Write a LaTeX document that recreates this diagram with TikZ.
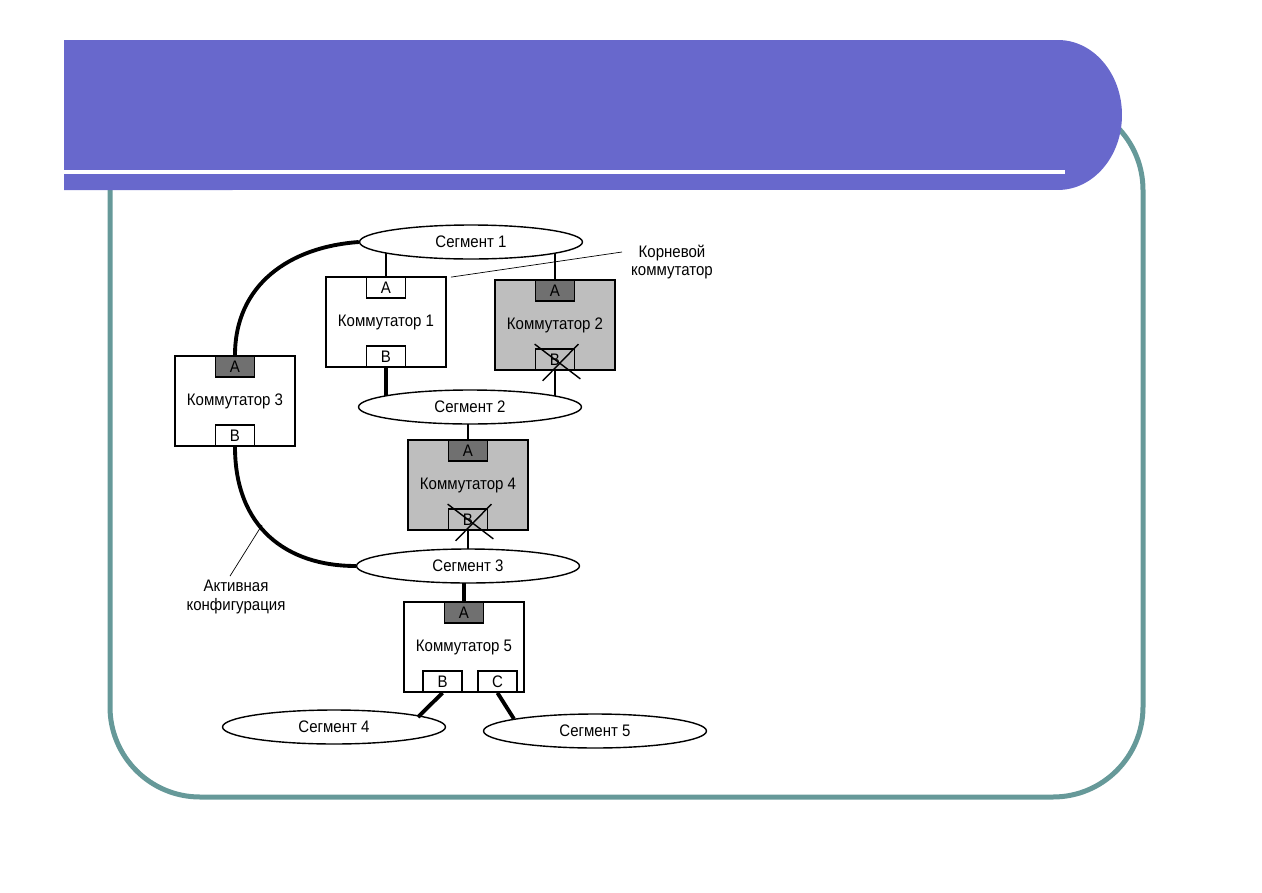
\documentclass[tikz,border=0pt]{standalone}
\usepackage{fontspec}
\setmainfont{Liberation Sans}[FakeStretch=0.9]
\usetikzlibrary{shapes.geometric,calc,backgrounds}
\definecolor{barblue}{RGB}{104,104,204}
\definecolor{frameteal}{RGB}{102,153,153}
\definecolor{swgray}{RGB}{190,190,190}
\definecolor{portgray}{RGB}{112,112,112}

\begin{document}
\begin{tikzpicture}[x=0.02cm, y=-0.02cm,
    font=\fontsize{9.5}{10.5}\selectfont,
    seg/.style={ellipse, draw, line width=0.8pt, fill=white, minimum width=4.46cm, minimum height=0.68cm, inner sep=0pt},
    sw/.style={rectangle, draw, line width=1pt, fill=white, minimum width=2.4cm, minimum height=1.8cm},
    swoff/.style={sw, fill=swgray},
    port/.style={rectangle, draw, line width=1pt, fill=white, minimum width=0.78cm, minimum height=0.42cm, inner sep=0pt},
    portact/.style={port, fill=portgray},
    link/.style={line width=0.9pt},
    actlink/.style={line width=2.2pt},
    xmark/.style={line width=0.8pt}]
    \useasboundingbox (0,0) rectangle (1262,893);

    % рамка и полоса заголовка
    \draw[frameteal, line width=0.1cm, rounded corners=1.8cm] (110,100) rectangle (1143,797);
    \fill[barblue] (64,40) -- (1058,40) arc[start angle=90, end angle=-90, x radius=1.28cm, y radius=1.5cm] -- (64,190) -- cycle;
    \draw[white, line width=0.08cm] (64,172) -- (1065,172);

    % сегменты
    \node[seg] (seg1) at (471,242) {Сегмент 1};
    \node[seg] (seg2) at (470,407) {Сегмент 2};
    \node[seg] (seg3) at (468,566) {Сегмент 3};
    \node[seg] (seg4) at (334,727) {Сегмент 4};
    \node[seg] (seg5) at (595,731) {Сегмент 5};

    % коммутатор 1 (корневой)
    \node[sw] (sw1) at (386,322) {Коммутатор 1};
    \node[port, anchor=north] (sw1A) at (sw1.north) {A};
    \node[port, anchor=south] (sw1B) at (sw1.south) {B};

    % коммутатор 2
    \node[swoff] (sw2) at (555,325) {Коммутатор 2};
    \node[portact, anchor=north] (sw2A) at (sw2.north) {A};
    \node[port, fill=swgray, anchor=south] (sw2B) at (sw2.south) {B};

    % коммутатор 3
    \node[sw] (sw3) at (235,401) {Коммутатор 3};
    \node[portact, anchor=north] (sw3A) at (sw3.north) {A};
    \node[port, anchor=south] (sw3B) at (sw3.south) {B};

    % коммутатор 4
    \node[swoff] (sw4) at (468,485) {Коммутатор 4};
    \node[portact, anchor=north] (sw4A) at (sw4.north) {A};
    \node[port, fill=swgray, anchor=south] (sw4B) at (sw4.south) {B};

    % коммутатор 5
    \node[sw] (sw5) at (464,647) {Коммутатор 5};
    \node[portact, anchor=north] (sw5A) at (sw5.north) {A};
    \node[port, anchor=south west] (sw5B) at ($(sw5.south west)+(19,0)$) {B};
    \node[port, anchor=south east] (sw5C) at ($(sw5.south east)+(-7,0)$) {C};

    % подписи
    \node[align=center] (rootlbl) at (672,262) {Корневой\\коммутатор};
    \node[align=center] (actlbl) at (236,597) {Активная\\конфигурация};

    \coordinate (s4top) at ($(seg4.center)+(84,-10)$);
    \coordinate (s5top) at ($(seg5.center)+(-81,-12)$);
    \coordinate (actpt) at (262,525);

    % связи
    \begin{scope}[on background layer]
        \draw[link] (sw1A.north) -- (sw1A.north |- seg1.center);
        \draw[link] (sw2A.north) -- (sw2A.north |- seg1.center);
        \draw[actlink] (sw1B.south) -- (sw1B.south |- seg2.center);
        \draw[link] (sw2B.south) -- (sw2B.south |- seg2.center);
        \draw[link] (sw4A.north) -- (sw4A.north |- seg2.center);
        \draw[link] (sw4B.south) -- (sw4B.south |- seg3.center);
        \draw[actlink] (sw5A.north) -- (sw5A.north |- seg3.center);
        \draw[actlink] (seg1.west) .. controls +(-70,5) and +(0,-70) .. (sw3A.north);
        \draw[actlink] (sw3B.south) .. controls +(0,80) and +(-70,0) .. (seg3.west);
    \end{scope}
    \draw[actlink] (sw5B.south) -- (s4top);
    \draw[actlink] (sw5C.south) -- (s5top);

    % заблокированные порты
    \draw[xmark] ($(sw2B.north west)+(0,-4)$) -- ($(sw2B.south east)+(5,8)$);
    \draw[xmark] ($(sw2B.north east)+(3,-4)$) -- ($(sw2B.south west)+(8,10)$);
    \draw[xmark] ($(sw4B.north west)+(0,-4)$) -- ($(sw4B.south east)+(5,8)$);
    \draw[xmark] ($(sw4B.north east)+(3,-4)$) -- ($(sw4B.south west)+(8,10)$);

    % выноски
    \draw[thin] ($(sw1.north east)+(4,1)$) -- ($(rootlbl.west)+(-3,-10)$);
    \draw[thin] (actpt) -- ($(actlbl.north)+(-6,2)$);
\end{tikzpicture}
\end{document}
